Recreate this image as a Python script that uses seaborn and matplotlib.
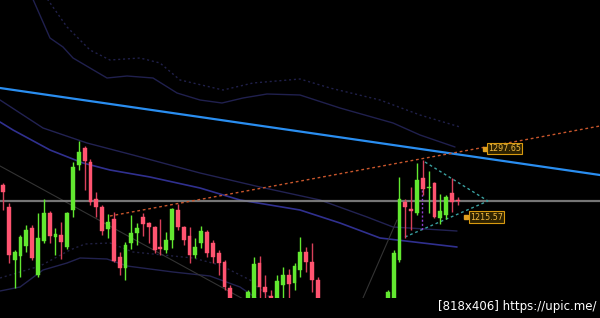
import matplotlib
matplotlib.use("Agg")
import matplotlib.pyplot as plt
import seaborn as sns
import numpy as np
import pandas as pd

# ---- candle data (price) ----
opens = [1254.0, 1227.6, 1164.0, 1168.8, 1180.8, 1202.4, 1146.0, 1186.8, 1220.4, 1191.6,
         1194.0, 1179.6, 1224.0, 1278.0, 1298.4, 1281.6, 1237.2, 1227.6, 1201.2, 1213.2,
         1167.6, 1154.4, 1184.4, 1196.4, 1215.6, 1208.4, 1203.6, 1179.6, 1176.0, 1188.0,
         1224.0, 1203.6, 1192.8, 1170.0, 1184.4, 1197.6, 1184.4, 1172.4, 1161.6, 1130.4,
         1108.8, 1094.4, 1110.0, 1116.0, 1160.4, 1131.6, 1120.8, 1110.0, 1134.0, 1146.0,
         1136.4, 1152.0, 1173.6, 1161.6, 1140.0, 1110.0, 1089.6, 1101.6, 1080.0, 1068.0,
         1084.8, 1096.8, 1083.6, 1100.4, 1110.0, 1098.0, 1104.0, 1104.0, 1164.0, 1233.6,
         1225.2, 1220.4, 1262.4, 1250.4, 1256.4, 1214.4, 1218.0, 1244.4, 1236.0]
closes = [1245.6, 1170.0, 1173.6, 1191.6, 1200.0, 1166.4, 1190.4, 1220.4, 1192.8, 1195.2,
          1185.6, 1220.4, 1275.6, 1293.6, 1282.8, 1233.6, 1227.6, 1198.8, 1209.6, 1162.8,
          1154.4, 1182.0, 1196.4, 1202.4, 1207.2, 1203.6, 1176.0, 1177.8, 1188.0, 1225.2,
          1203.6, 1188.0, 1170.0, 1179.6, 1198.8, 1172.4, 1167.6, 1160.4, 1131.6, 1110.0,
          1098.0, 1106.4, 1125.6, 1159.2, 1131.6, 1125.6, 1110.0, 1138.8, 1146.0, 1135.2,
          1156.8, 1173.6, 1161.6, 1140.0, 1110.0, 1092.0, 1104.0, 1080.0, 1068.0, 1086.0,
          1098.0, 1082.4, 1101.6, 1111.2, 1094.4, 1113.6, 1125.6, 1172.4, 1237.2, 1227.6,
          1222.8, 1260.0, 1249.2, 1251.6, 1215.6, 1222.8, 1239.6, 1233.6, 1234.8]
highs = [1256.4, 1232.4, 1176.0, 1194.0, 1206.0, 1206.0, 1220.4, 1237.2, 1222.8, 1202.4,
         1209.6, 1221.6, 1281.6, 1306.8, 1300.8, 1285.2, 1245.6, 1230.0, 1219.2, 1221.6,
         1173.6, 1185.6, 1218.0, 1208.4, 1220.4, 1209.6, 1204.8, 1213.2, 1197.6, 1226.4,
         1231.2, 1204.8, 1203.6, 1190.4, 1204.8, 1200.0, 1188.0, 1176.0, 1164.0, 1134.0,
         1112.4, 1115.4, 1128.0, 1167.6, 1168.8, 1146.0, 1128.0, 1146.0, 1155.6, 1153.2,
         1160.4, 1191.6, 1179.6, 1184.4, 1143.6, 1116.0, 1110.0, 1106.4, 1089.6, 1094.4,
         1104.0, 1105.2, 1108.8, 1116.0, 1114.8, 1116.0, 1128.0, 1176.0, 1263.6, 1237.2,
         1251.6, 1280.4, 1284.0, 1270.8, 1257.6, 1243.2, 1242.0, 1262.4, 1239.6]
lows = [1224.0, 1160.4, 1130.4, 1143.6, 1173.6, 1164.0, 1143.6, 1184.4, 1184.4, 1170.0,
        1165.2, 1177.2, 1215.6, 1272.0, 1248.0, 1230.0, 1215.6, 1194.0, 1190.4, 1161.6,
        1146.0, 1140.0, 1177.2, 1182.0, 1192.8, 1184.4, 1172.4, 1170.0, 1172.4, 1178.4,
        1200.0, 1182.0, 1160.4, 1166.4, 1178.4, 1167.6, 1160.4, 1146.0, 1128.0, 1104.0,
        1092.0, 1089.6, 1106.4, 1112.4, 1116.0, 1113.6, 1104.0, 1106.4, 1116.0, 1116.0,
        1128.0, 1143.6, 1149.6, 1125.6, 1104.0, 1086.0, 1082.4, 1074.0, 1062.0, 1062.0,
        1077.6, 1075.2, 1080.0, 1094.4, 1089.6, 1092.0, 1098.0, 1101.6, 1161.6, 1190.4,
        1200.0, 1218.0, 1242.0, 1220.4, 1214.4, 1207.2, 1213.2, 1221.6, 1230.0]

# ---- indicator lines (bar index, price) ----
upper_solid_x = [4.29, 8.06, 10.29, 12.01, 14.92, 17.84, 21.27, 25.73, 29.85, 33.79,
                 37.56, 41.17, 45.28, 50.94, 57.80, 66.90, 71.53, 77.53]
upper_solid_y = [1490.4, 1430.4, 1419.6, 1406.4, 1394.4, 1382.4, 1384.8, 1382.4, 1364.4, 1356.0,
                 1352.4, 1358.4, 1363.2, 1362.0, 1346.4, 1328.4, 1314.0, 1299.6]
upper_dot_x = [6.35, 7.72, 10.98, 14.92, 18.35, 23.50, 26.93, 30.36, 37.74, 42.88,
               50.94, 56.09, 64.67, 71.53, 78.39]
upper_dot_y = [1494.0, 1476.0, 1443.6, 1416.0, 1404.0, 1406.4, 1400.4, 1380.0, 1368.0, 1376.4,
               1381.2, 1370.4, 1356.0, 1338.0, 1323.6]
mid_a_x = [-0.51, 6.86, 14.41, 22.30, 33.79, 44.08, 54.37, 62.44, 66.90, 77.87]
mid_a_y = [1356.0, 1322.4, 1304.4, 1290.0, 1268.4, 1251.6, 1236.0, 1215.6, 1203.6, 1198.8]
mid_b_x = [-0.51, 1.72, 8.06, 13.72, 18.35, 25.21, 33.79, 40.65, 50.94, 57.80, 64.67, 77.87]
mid_b_y = [1329.6, 1320.0, 1296.0, 1280.4, 1272.0, 1263.6, 1250.4, 1236.0, 1224.0, 1208.4,
           1190.4, 1179.6]
low_solid_x = [-0.51, 2.92, 6.86, 10.98, 13.21, 17.84, 21.27, 29.16, 35.51, 40.65, 44.42]
low_solid_y = [1126.8, 1131.6, 1152.0, 1160.4, 1166.4, 1165.2, 1156.8, 1149.6, 1144.8, 1131.6,
               1113.6]
low_dot_x = [-0.51, 6.35, 11.49, 14.07, 18.35, 22.30, 32.59, 37.22, 42.37, 46.66]
low_dot_y = [1142.4, 1156.8, 1176.0, 1183.2, 1184.4, 1173.6, 1166.4, 1158.0, 1140.0, 1113.6]

blue_trend_x = [-0.515, 102.40]
blue_trend_y = [1370.4, 1266.0]
orange_trend_x = [18.35, 102.40]
orange_trend_y = [1216.8, 1324.8]
gray_diag1_x = [-0.51, 41.51]
gray_diag1_y = [1276.8, 1116.0]
gray_diag2_x = [61.75, 67.58]
gray_diag2_y = [1118.4, 1212.0]
tri_up_x = [72.38, 83.19]
tri_up_y = [1281.6, 1234.8]
tri_low_x = [68.95, 83.19]
tri_low_y = [1191.6, 1234.8]
vdot_x = [71.87, 71.87]
vdot_y = [1248.0, 1200.0]
hline_price = 1234.8

label_hi = "1297.65"
label_lo = "1215.57"
label_hi_pos = (83.19, 1297.65)
label_lo_pos = (80.10, 1215.57)

# ---- figure ----
sns.set_theme(style="dark", rc={"axes.facecolor": "black", "figure.facecolor": "black"})
plt.rcParams['font.family'] = ['DejaVu Sans']

fig = plt.figure(figsize=(6.0, 3.18), dpi=100)
fig.patch.set_facecolor("black")
ax = fig.add_axes([0, 20 / 318, 1, 298 / 318])
ax.set_facecolor("black")

def line(xs, ys, color, lw=1.0, ls="-", alpha=1.0):
    df = pd.DataFrame({"x": xs, "y": ys})
    sns.lineplot(data=df, x="x", y="y", ax=ax, color=color, lw=lw, linestyle=ls,
                 alpha=alpha, sort=False, estimator=None)

# bands
line(upper_solid_x, upper_solid_y, "#20204e", 1.0)
line(upper_dot_x, upper_dot_y, "#20204a", 1.0, (0, (1.5, 2)))
line(mid_a_x, mid_a_y, "#222252", 1.0)
line(mid_b_x, mid_b_y, "#30308f", 1.2)
line(low_solid_x, low_solid_y, "#22224f", 1.0)
line(low_dot_x, low_dot_y, "#202042", 1.0, (0, (1.5, 2)))
line(gray_diag1_x, gray_diag1_y, "#333333", 0.8)
line(gray_diag2_x, gray_diag2_y, "#333333", 0.8)

# horizontal gray line
ax.axhline(hline_price, color="#8a8a8a", lw=1.6, alpha=0.85)

# candles
idx = np.arange(len(opens))
o = np.array(opens); c = np.array(closes); h = np.array(highs); l = np.array(lows)
up = c >= o
green = "#62e830"
red = "#ff5470"
wick_red = "#d8405a"
colors = np.where(up, green, red)
wick_colors = np.where(up, green, wick_red)
ax.vlines(idx, l, h, colors=wick_colors, lw=1.0, zorder=3)
body_bottom = np.minimum(o, c)
body_h = np.maximum(np.abs(c - o), 1.3)
ax.bar(idx, body_h, bottom=body_bottom, width=0.66, color=colors, edgecolor=colors,
       lw=0.3, zorder=4)

# trend lines
line(blue_trend_x, blue_trend_y, "#2a8ef0", 1.6)
line(orange_trend_x, orange_trend_y, "#c8562c", 1.0, (0, (2, 2)))
line(tri_up_x, tri_up_y, "#3aa0a0", 1.0, (0, (2, 2)))
line(tri_low_x, tri_low_y, "#3aa0a0", 1.0, (0, (2, 2)))
ax.plot(vdot_x, vdot_y, color="#9040d0", lw=1.0, linestyle=(0, (1.5, 1.5)), zorder=2)

# price labels
for (lx, ly), txt in ((label_hi_pos, label_hi), (label_lo_pos, label_lo)):
    ax.plot([lx - 0.6], [ly], marker="s", ms=2.5, color="#e0a020", zorder=6)
    ax.text(lx, ly, txt, color="#f0b840", fontsize=5.8, ha="left", va="center",
            zorder=7,
            bbox=dict(boxstyle="square,pad=0.15", fc="#2e2200", ec="#d89a10", lw=0.8))

ax.set_xlim(-0.515, 102.40)
ax.set_ylim(1118.4, 1476.0)
ax.set_axis_off()

fig.text(0.995, 0.035, "[818x406] https://upic.me/", color="white", fontsize=8.5,
         ha="right", va="center")

fig.savefig("out.png", dpi=100, facecolor="black")
